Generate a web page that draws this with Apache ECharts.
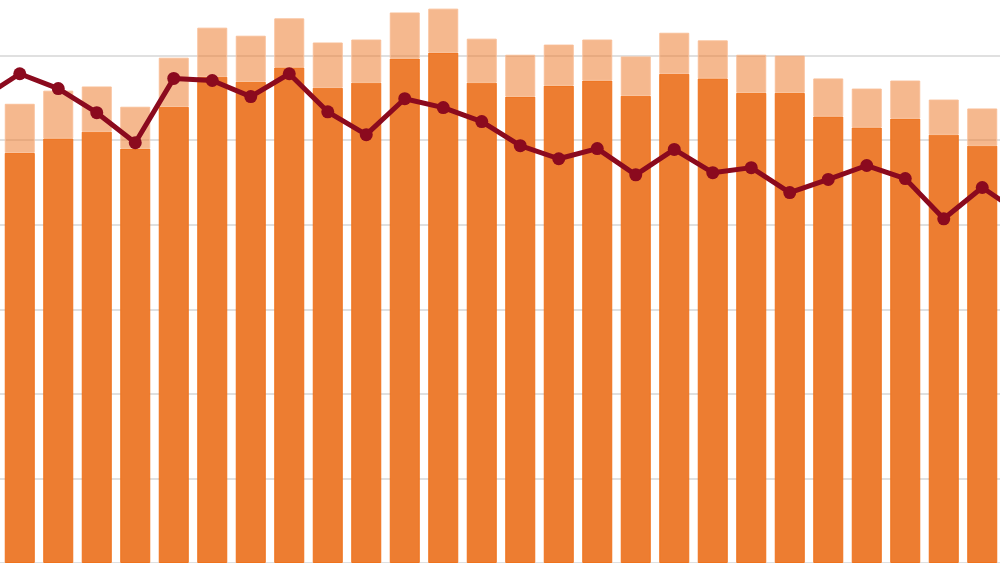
<!DOCTYPE html>
<html>
<head>
<meta charset="utf-8">
<script src="https://cdn.jsdelivr.net/npm/echarts@6/dist/echarts.min.js"></script>
<style>
html,body{margin:0;padding:0;background:#fff;overflow:hidden;width:1000px;height:563px;position:relative}
#c{position:absolute;left:-38px;top:-29px;width:1078px;height:600px}
</style>
</head>
<body>
<div id="c"></div>
<script>
// categories: first and last are just off the visible edge
const categories = ['c0','c1','c2','c3','c4','c5','c6','c7','c8','c9','c10','c11','c12','c13','c14','c15','c16','c17','c18','c19','c20','c21','c22','c23','c24','c25','c26','c27'];
const baseValues = [null,97.0,100.4,102.0,98.0,107.9,115.0,113.8,117.2,112.4,113.6,119.3,120.7,113.6,110.3,112.9,114.1,110.5,115.7,114.6,111.2,111.2,105.6,103.0,105.1,101.3,98.7,null];
const extraValues = [null,11.6,11.3,10.7,9.9,11.6,11.6,10.9,11.6,10.7,10.2,10.9,10.4,10.4,9.9,9.7,9.7,9.3,9.7,9.0,9.0,8.8,9.0,9.2,9.0,8.3,8.8,null];
const lineValues = [109.8,115.7,112.2,106.5,99.4,114.6,114.1,110.3,115.7,106.7,101.3,109.8,107.7,104.4,98.7,95.6,98.0,91.8,97.8,92.3,93.5,87.6,90.7,94.0,90.9,81.4,88.8,82.6];

const chart = echarts.init(document.getElementById('c'), null, {renderer: 'canvas'});
chart.setOption({
  animation: false,
  backgroundColor: '#ffffff',
  grid: {left: 0, right: 0, top: 0, bottom: 8, containLabel: false},
  xAxis: {
    type: 'category', data: categories,
    axisLine: {show: false}, axisTick: {show: false}, axisLabel: {show: false}, splitLine: {show: false}
  },
  yAxis: {
    type: 'value', min: 0, max: 140, interval: 20,
    axisLine: {show: false}, axisTick: {show: false}, axisLabel: {show: false},
    splitLine: {show: true, lineStyle: {color: '#d6d6d6', width: 1.5}}
  },
  series: [
    {type: 'bar', stack: 's', data: baseValues, barWidth: 30,
     itemStyle: {color: '#ED7D31', borderColor: '#F0731C', borderWidth: 1}},
    {type: 'bar', stack: 's', data: extraValues, barWidth: 30,
     itemStyle: {color: 'rgba(237,125,49,0.55)', borderColor: 'rgba(248,190,150,0.9)', borderWidth: 1}},
    {type: 'line', data: lineValues, z: 5,
     symbol: 'circle', symbolSize: 13,
     lineStyle: {color: '#8B0A1E', width: 5},
     itemStyle: {color: '#8B0A1E'}}
  ]
});
</script>
</body>
</html>
